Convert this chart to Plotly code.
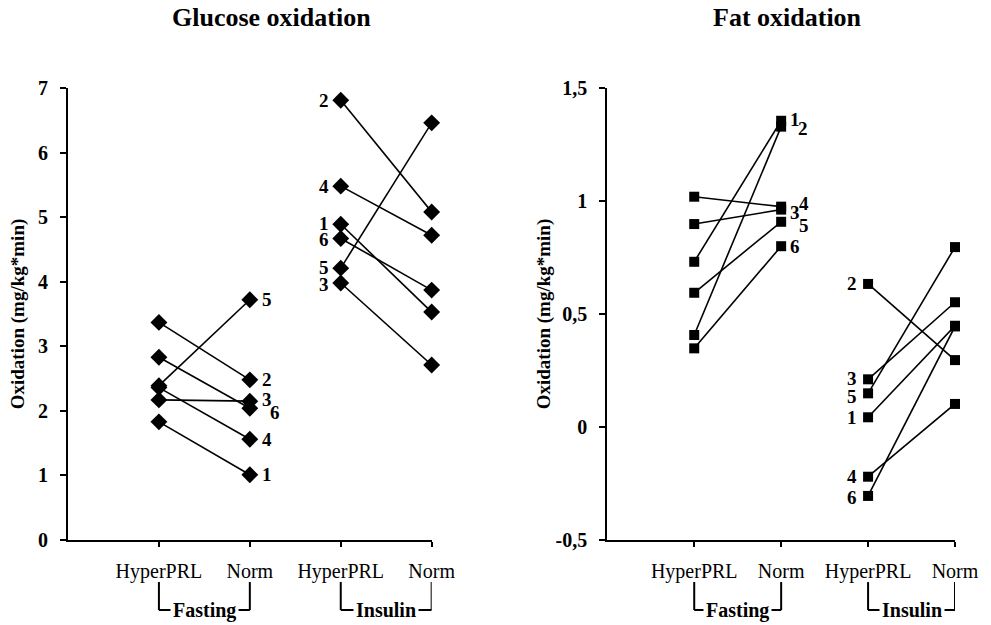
import plotly.graph_objects as go

categories = ["HyperPRL", "Norm", "HyperPRL", "Norm"]
conditions = ["Fasting", "Insulin"]
subjects = ["1", "2", "3", "4", "5", "6"]

# Glucose oxidation (mg/kg*min)
glu_fast_hyper = [1.83, 3.37, 2.17, 2.36, 2.39, 2.83]
glu_fast_norm = [1.01, 2.48, 2.15, 1.56, 3.72, 2.04]
glu_ins_hyper = [4.89, 6.81, 3.98, 5.48, 4.21, 4.67]
glu_ins_norm = [3.53, 5.08, 2.71, 4.72, 6.46, 3.87]

# Fat oxidation (mg/kg*min)
fat_fast_hyper = [0.731, 0.407, 0.898, 1.019, 0.594, 0.348]
fat_fast_norm = [1.355, 1.329, 0.962, 0.975, 0.908, 0.800]
fat_ins_hyper = [0.043, 0.633, 0.211, -0.220, 0.149, -0.305]
fat_ins_norm = [0.448, 0.296, 0.552, 0.102, 0.796, 0.445]

glu_ticks = [0, 1, 2, 3, 4, 5, 6, 7]
fat_ticks = [-0.5, 0, 0.5, 1, 1.5]
fat_ticktext = ["-0,5", "0", "0,5", "1", "1,5"]

SERIF = "Liberation Serif"
fig = go.Figure()

def add_pairs(xa, ya, a, b, x0, symbol, size):
    for i in range(len(a)):
        fig.add_trace(go.Scatter(
            x=[x0, x0 + 1], y=[a[i], b[i]], xaxis=xa, yaxis=ya,
            mode="lines+markers", showlegend=False, hoverinfo="skip",
            line=dict(color="black", width=1.6),
            marker=dict(symbol=symbol, size=size, color="black"),
            cliponaxis=False))

add_pairs("x", "y", glu_fast_hyper, glu_fast_norm, 0, "diamond", 13)
add_pairs("x", "y", glu_ins_hyper, glu_ins_norm, 2, "diamond", 13)
add_pairs("x2", "y2", fat_fast_hyper, fat_fast_norm, 0, "square", 10)
add_pairs("x2", "y2", fat_ins_hyper, fat_ins_norm, 2, "square", 10)

ann = []
lblfont = dict(family=SERIF, size=19, color="black", weight="bold")

def labels(xr, yr, xval, vals, xshift, extra=None):
    extra = extra or {}
    for i, v in enumerate(vals):
        dx, dy = extra.get(subjects[i], (0, 0))
        ann.append(dict(x=xval, y=v, xref=xr, yref=yr, text=subjects[i],
                        showarrow=False, font=lblfont, xanchor="center",
                        yanchor="middle", xshift=xshift + dx, yshift=dy))

labels("x", "y", 1, glu_fast_norm, 17, {"6": (8, -4), "3": (0, 2)})
labels("x", "y", 2, glu_ins_hyper, -17, {"1": (0, 1), "6": (0, -1), "5": (0, 1), "3": (0, -1)})
labels("x2", "y2", 1, fat_fast_norm, 14, {"1": (0, 1), "2": (8, -2), "4": (9, 3), "3": (0, -3), "5": (9, -4)})
labels("x2", "y2", 2, fat_ins_hyper, -16, {"3": (0, 1), "5": (0, -3), "6": (0, -2)})

# titles
title_font = dict(family=SERIF, size=26, color="black", weight="bold")
ann.append(dict(x=0.229, y=1.155, xref="paper", yref="paper", text="Glucose oxidation",
                showarrow=False, xanchor="center", yanchor="middle", font=title_font))
ann.append(dict(x=0.811, y=1.155, xref="paper", yref="paper", text="Fat oxidation",
                showarrow=False, xanchor="center", yanchor="middle", font=title_font))

shapes = []
ytop, ybot = -0.093, -0.155
for xr in ["x", "x2"]:
    for k, cond in enumerate(conditions):
        a, b = 2 * k, 2 * k + 1
        for seg in [(a, ytop, a, ybot), (a, ybot, b, ybot), (b, ybot, b, ytop)]:
            shapes.append(dict(type="line", xref=xr, yref="paper",
                               x0=seg[0], y0=seg[1], x1=seg[2], y1=seg[3],
                               line=dict(color="black", width=2)))
        ann.append(dict(x=a + 0.5, y=ybot, xref=xr, yref="paper", text=cond,
                        showarrow=False, bgcolor="white", borderpad=2,
                        font=dict(family=SERIF, size=20, color="black", weight="bold"),
                        xanchor="center", yanchor="middle"))

xcommon = dict(range=[-1, 3], tickmode="array", tickvals=[0, 1, 2, 3], ticktext=categories,
               showline=True, linecolor="black", linewidth=2, ticks="outside",
               ticklen=5, tickwidth=2, tickcolor="black", showgrid=False, zeroline=False,
               tickfont=dict(family=SERIF, size=20, color="black"), ticklabelstandoff=7,
               fixedrange=True)

def ycommon(standoff):
    return dict(showline=True, linecolor="black", linewidth=2, ticks="outside",
                ticklen=6, tickwidth=2, tickcolor="black", showgrid=False, zeroline=False,
                tickfont=dict(family=SERIF, size=20, color="black", weight="bold"),
                ticklabelstandoff=8, fixedrange=True,
                title=dict(text="Oxidation (mg/kg*min)", standoff=standoff,
                           font=dict(family=SERIF, size=19, color="black", weight="bold")))

fig.update_layout(
    width=991, height=625,
    margin=dict(l=68, r=33, t=88, b=85),
    paper_bgcolor="white", plot_bgcolor="white",
    xaxis=dict(domain=[0, 0.410], anchor="y", **xcommon),
    xaxis2=dict(domain=[0.608, 1.0], anchor="y2", **xcommon),
    yaxis=dict(domain=[0, 1], anchor="x", range=[0, 7], tickmode="array",
               tickvals=glu_ticks, **ycommon(8)),
    yaxis2=dict(domain=[0, 1], anchor="x2", range=[-0.5, 1.5], tickmode="array",
                tickvals=fat_ticks, ticktext=fat_ticktext, **ycommon(0)),
    annotations=ann, shapes=shapes, showlegend=False,
)

fig.write_html("out.html", config={"displayModeBar": False})
